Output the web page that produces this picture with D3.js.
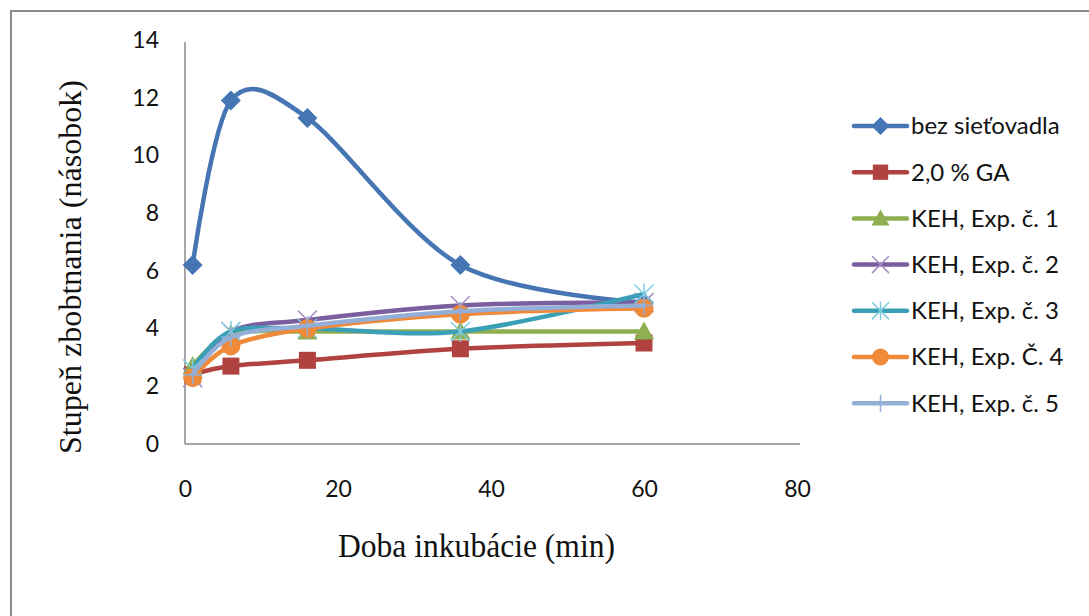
<!DOCTYPE html>
<html>
<head>
<meta charset="utf-8">
<script src="https://cdn.jsdelivr.net/npm/d3@7"></script>
<style>
  html, body { margin: 0; padding: 0; background: #fff; }
  svg { display: block; }
</style>
</head>
<body>
<svg id="chart" width="1089" height="616"></svg>
<script>
// Incubation times (min)
const times = [1, 6, 16, 36, 60];

// Swelling degree per series
const bezSietovadla = [6.2, 11.9, 11.3, 6.2, 4.9];
const ga20 = [2.4, 2.7, 2.9, 3.3, 3.5];
const keh1 = [2.7, 3.8, 3.9, 3.9, 3.9];
const keh2 = [2.3, 3.9, 4.3, 4.8, 4.9];
const keh3 = [2.6, 3.9, 4.0, 3.9, 5.2];
const keh4 = [2.3, 3.4, 4.0, 4.5, 4.7];
const keh5 = [2.4, 3.7, 4.1, 4.6, 4.8];

const seriesNames = ["bez sieťovadla", "2,0 % GA", "KEH, Exp. č. 1", "KEH, Exp. č. 2",
                     "KEH, Exp. č. 3", "KEH, Exp. Č. 4", "KEH, Exp. č. 5"];
const seriesValues = [bezSietovadla, ga20, keh1, keh2, keh3, keh4, keh5];

const xTicks = [0, 20, 40, 60, 80];
const yTicks = [0, 2, 4, 6, 8, 10, 12, 14];

const lineColors = ["#4675B3", "#B0433F", "#8FAE50", "#7A5E9F", "#3C9FB8", "#EE8A3A", "#93AFD8"];
const markerColors = ["#4675B3", "#B0433F", "#8FAE50", "#A48CC4", "#7FCCDF", "#EE8A3A", "#93AFD8"];
const markerKinds = ["diamond", "square", "triangle", "x", "star", "circle", "plus"];

const svg = d3.select("#chart");

// Outer chart frame
svg.append("rect")
  .attr("x", 11).attr("y", 11).attr("width", 1100).attr("height", 620)
  .attr("fill", "none").attr("stroke", "#8c8c8c").attr("stroke-width", 2);

const x = d3.scaleLinear().domain([0, 80]).range([185, 797]);
const y = d3.scaleLinear().domain([0, 14]).range([444, 40]);

const tickFont = "Lato, 'Open Sans', sans-serif";
const titleFont = "'Liberation Serif', 'Times New Roman', serif";

// Axes
const xAxis = svg.append("g").attr("transform", `translate(0,${y(0)})`)
  .call(d3.axisBottom(x).tickValues(xTicks).tickSize(0).tickPadding(37));
const yAxis = svg.append("g").attr("transform", `translate(${x(0)},0)`)
  .call(d3.axisLeft(y).tickValues(yTicks).tickSize(0).tickPadding(26));
[xAxis, yAxis].forEach(g => {
  g.select(".domain").attr("stroke", "#8a8a8a").attr("stroke-width", 1.5);
  g.selectAll("text").attr("font-family", tickFont).attr("font-size", 23).attr("fill", "#111");
});
xAxis.select(".domain").attr("d", `M${x(0)},0H${x(80) + 3}`);
yAxis.select(".domain").attr("d", `M0,${y(0)}V${y(14) + 2}`);

// Axis titles
svg.append("text")
  .attr("x", 476.5).attr("y", 557)
  .attr("text-anchor", "middle")
  .attr("font-family", titleFont)
  .attr("font-size", 33).attr("fill", "#111")
  .attr("textLength", 277).attr("lengthAdjust", "spacingAndGlyphs")
  .text("Doba inkubácie (min)");

svg.append("text")
  .attr("transform", "translate(81,267) rotate(-90)")
  .attr("text-anchor", "middle")
  .attr("font-family", titleFont)
  .attr("font-size", 32).attr("fill", "#111")
  .attr("textLength", 374).attr("lengthAdjust", "spacingAndGlyphs")
  .text("Stupeň zbobtnania (násobok)");

// Marker drawing
function drawMarker(g, kind, cx, cy, color, k) {
  const s = k || 1;
  if (kind === "diamond") {
    const r = 10 * s;
    g.append("path").attr("d", `M${cx},${cy - r}L${cx + r},${cy}L${cx},${cy + r}L${cx - r},${cy}Z`).attr("fill", color);
  } else if (kind === "square") {
    const r = 8.5 * s;
    g.append("rect").attr("x", cx - r).attr("y", cy - r).attr("width", 2 * r).attr("height", 2 * r).attr("fill", color);
  } else if (kind === "triangle") {
    const r = 10 * s;
    g.append("path").attr("d", `M${cx},${cy - r}L${cx + r},${cy + r * 0.8}L${cx - r},${cy + r * 0.8}Z`).attr("fill", color);
  } else if (kind === "circle") {
    g.append("circle").attr("cx", cx).attr("cy", cy).attr("r", 9.5 * s).attr("fill", color);
  } else if (kind === "x") {
    const r = 9.5 * s;
    g.append("path").attr("d", `M${cx - r},${cy - r}L${cx + r},${cy + r}M${cx - r},${cy + r}L${cx + r},${cy - r}`)
      .attr("stroke", color).attr("stroke-width", 1.5).attr("fill", "none");
  } else if (kind === "star") {
    const r = 9.5 * s;
    g.append("path").attr("d", `M${cx - r},${cy - r}L${cx + r},${cy + r}M${cx - r},${cy + r}L${cx + r},${cy - r}M${cx},${cy - r * 1.1}V${cy + r * 1.1}`)
      .attr("stroke", color).attr("stroke-width", 1.5).attr("fill", "none");
  } else if (kind === "plus") {
    const r = 9.5 * s;
    g.append("path").attr("d", `M${cx - r},${cy}H${cx + r}M${cx},${cy - r}V${cy + r}`)
      .attr("stroke", color).attr("stroke-width", 1.5).attr("fill", "none");
  }
}

// Smoothed series lines with markers
const line = d3.line()
  .x(d => x(d[0]))
  .y(d => y(d[1]))
  .curve(d3.curveCardinal.tension(0.05));

const plot = svg.append("g");
seriesValues.forEach((vals, i) => {
  const pts = times.map((t, j) => [t, vals[j]]);
  const g = plot.append("g");
  g.append("path").datum(pts).attr("d", line)
    .attr("fill", "none").attr("stroke", lineColors[i]).attr("stroke-width", 4.5)
    .attr("stroke-linejoin", "round").attr("stroke-linecap", "round");
  pts.forEach(p => drawMarker(g, markerKinds[i], x(p[0]), y(p[1]), markerColors[i]));
});

// Legend
const legend = svg.append("g");
seriesNames.forEach((name, i) => {
  const cy = 126 + i * 46.2;
  const g = legend.append("g");
  g.append("line").attr("x1", 854).attr("x2", 907).attr("y1", cy).attr("y2", cy)
    .attr("stroke", lineColors[i]).attr("stroke-width", 4.5).attr("stroke-linecap", "round");
  drawMarker(g, markerKinds[i], 880.5, cy, markerColors[i], 0.9);
  g.append("text").attr("x", 911).attr("y", cy).attr("dy", "0.35em")
    .attr("font-family", tickFont).attr("font-size", 24).attr("fill", "#111")
    .text(name);
});
</script>
</body>
</html>
